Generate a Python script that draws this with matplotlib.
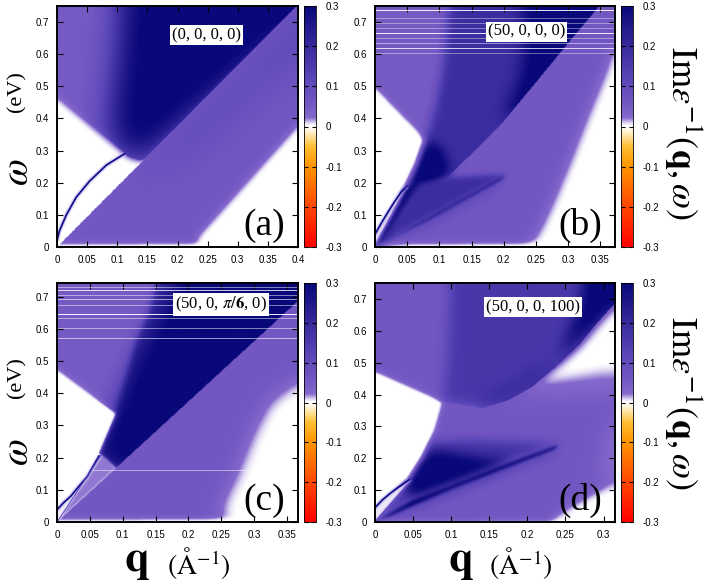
import numpy as np
import matplotlib
matplotlib.use('Agg')
import matplotlib.pyplot as plt
from matplotlib.path import Path
from matplotlib.colors import LinearSegmentedColormap
from matplotlib.ticker import FuncFormatter

plt.rcParams['font.family'] = ['Liberation Sans', 'DejaVu Sans']
plt.rcParams['mathtext.fontset'] = 'stix'
plt.rcParams['axes.unicode_minus'] = False

# ---- axis ranges and labels ----
q_max = {'a': 0.4, 'b': 0.373, 'c': 0.367, 'd': 0.315}
w_max = {'a': 0.75, 'b': 0.75, 'c': 0.742, 'd': 0.75}
params = {'a': '(0, 0, 0, 0)', 'b': '(50, 0, 0, 0)',
          'c': r'(50, 0, $\pi/\mathbf{6}$, 0)', 'd': '(50, 0, 0, 100)'}
cbar_ticks = [-0.3, -0.2, -0.1, 0, 0.1, 0.2, 0.3]

# colour scale of Im eps^-1 (gnuplot like palette)
cmap_vals = [-0.3, -0.2, -0.1, -0.05, -0.012, -0.002, 0.002, 0.008, 0.022, 0.06, 0.12, 0.2, 0.3]
cmap_cols = ['#ff0000', '#ff4600', '#ff9400', '#ffbe32', '#fff2d0', '#ffffff', '#ffffff',
             '#e2dbf4', '#8468cc', '#7256c2', '#5a46b8', '#37299c', '#08087a']

# ---- regions, (q, omega) vertices ----
bottom_strip = [(-0.02, -0.1), (0.5, -0.1), (0.5, 0.008), (-0.02, 0.004)]

# (a)
a_plasmon_q = [0.0, 0.004, 0.0155, 0.032, 0.054, 0.082, 0.112]
a_plasmon_w = [0.02, 0.05, 0.100, 0.155, 0.205, 0.255, 0.29]
a_upper = [(-0.02, 0.5), (0.112, 0.292), (0.118, 0.28), (0.137, 0.268), (0.145, 0.272),
           (0.42, 0.7875), (-0.02, 0.8)]
a_navy = [(0.085, 0.34), (0.112, 0.292), (0.13, 0.25), (0.45, 0.75), (0.45, 0.85),
          (0.108, 0.85), (0.1, 0.6)]
a_below = [(-0.02, -0.0375), (0.42, 0.7875), (0.42, -0.1), (-0.02, -0.1)]
a_lower = [(-0.02, 0.012), (0.45, 0.012), (0.45, 0.85), (-0.02, 0.85)]
a_diag_band = [(0.12, 0.2), (0.42, 0.7875), (0.42, 0.6), (0.22, 0.28)]
a_fade_br = [(0.235, -0.1), (0.23, 0.03), (0.24, 0.052), (0.4, 0.385), (0.45, 0.39), (0.45, -0.1)]

# (b)
b_plasmon_q = [0.0, 0.01, 0.02, 0.03, 0.041, 0.05]
b_plasmon_w = [0.04, 0.075, 0.108, 0.14, 0.172, 0.19]
b_split = [(0.11, 0.21), (0.146, 0.281), (0.198, 0.385), (0.25, 0.51), (0.301, 0.634),
           (0.345, 0.738), (0.352, 0.77)]
b_above = b_split + [(-0.02, 0.8), (-0.02, 0.2)]
b_below = b_split + [(0.5, 0.8), (0.5, -0.1), (-0.02, -0.1), (-0.02, 0.0)]
b_upper = [(-0.02, 0.5), (0.079, 0.333), (0.065, 0.25), (0.05, 0.19)] + b_split + \
          [(0.36, 0.8), (-0.02, 0.8)]
b_fan = [(0.079, 0.333), (0.092, 0.42), (0.105, 0.55), (0.118, 0.8), (0.5, 0.8),
         (0.5, 0.3), (0.11, 0.21), (0.075, 0.22)]
b_fan_navy = [(0.2, 0.4), (0.225, 0.52), (0.235, 0.65), (0.225, 0.8), (0.5, 0.8), (0.5, 0.5)]
b_lower = [(-0.02, 0.012), (0.5, 0.012), (0.5, 0.85), (-0.02, 0.85)]
b_fade_r = [(0.24, -0.1), (0.235, 0.012), (0.245, 0.025), (0.255, 0.06), (0.275, 0.146),
            (0.301, 0.271), (0.327, 0.405), (0.353, 0.53), (0.368, 0.613), (0.39, 0.66),
            (0.45, 0.66), (0.45, -0.1)]
b_wedge = [(0.005, 0.01), (0.07, 0.2), (0.11, 0.215), (0.205, 0.226), (0.1, 0.11)]
b_band_fade = [(0.0, 0.0), (0.203, 0.224), (0.19, 0.185), (0.09, 0.075)]
b_band = [(0.0, 0.0), (0.203, 0.224), (0.195, 0.208), (0.09, 0.092)]
b_blob = [(0.045, 0.17), (0.065, 0.15), (0.1, 0.19), (0.115, 0.24), (0.105, 0.3),
          (0.082, 0.333), (0.065, 0.27)]
b_steep = [(0.0, 0.0), (0.05, 0.187), (0.075, 0.2), (0.025, 0.04)]
b_left_white = [(-0.02, 0.5), (0.0, 0.5), (0.079, 0.333), (0.065, 0.25), (0.05, 0.19)] + \
               list(zip(b_plasmon_q, b_plasmon_w))[::-1] + [(-0.02, 0.04)]
b_gap = list(zip(b_plasmon_q, b_plasmon_w)) + [(0.0, 0.0)]
b_hlines = [0.738, 0.712, 0.696, 0.681, 0.665, 0.65, 0.634, 0.618, 0.605]
b_hline_alpha = [0.9, 0.4, 0.4, 0.4, 0.9, 0.4, 0.5, 0.8, 0.4]

# (c)
c_plasmon_q = [0.0, 0.01, 0.0205, 0.033, 0.046, 0.064]
c_plasmon_w = [0.038, 0.06, 0.079, 0.11, 0.141, 0.205]
c_upper = [(-0.02, 0.502), (0.0896, 0.337), (0.064, 0.214), (0.09, 0.1683),
           (0.43, 0.804), (-0.02, 0.804)]
c_fan_mid = [(0.0896, 0.337), (0.105, 0.45), (0.12, 0.56), (0.14, 0.65), (0.16, 0.8),
             (0.5, 0.8), (0.5, 0.3), (0.09, 0.1683), (0.064, 0.214)]
c_fan_core = [(0.093, 0.34), (0.125, 0.5), (0.2, 0.8), (0.5, 0.8), (0.5, 0.3),
              (0.09, 0.1683), (0.064, 0.214)]
c_below = [(-0.02, -0.0374), (0.43, 0.804), (0.43, -0.1), (-0.02, -0.1)]
c_lower = [(-0.02, 0.01), (0.45, 0.012), (0.45, 0.85), (-0.02, 0.85)]
c_fade_r = [(0.26, -0.1), (0.245, 0.05), (0.268, 0.141), (0.294, 0.275), (0.32, 0.379),
            (0.367, 0.45), (0.45, 0.45), (0.45, -0.1)]
c_sliver = [(0.0, 0.0), (0.068, 0.21), (0.09, 0.1683)]
c_left_white = [(-0.02, 0.502), (0.0896, 0.337), (0.064, 0.214)] + \
               list(zip(c_plasmon_q, c_plasmon_w))[::-1] + [(-0.02, 0.038)]
c_gap = list(zip(c_plasmon_q, c_plasmon_w)) + [(0.068, 0.21), (0.0, 0.0)]
c_hlines = [0.73, 0.72, 0.706, 0.691, 0.673, 0.647, 0.632, 0.603, 0.57, 0.162]
c_hline_alpha = [0.5, 0.8, 0.5, 0.6, 0.5, 0.95, 0.5, 0.5, 0.6, 0.5]

# (d)
d_plasmon_q = [0.0, 0.01, 0.02, 0.03, 0.045]
d_plasmon_w = [0.045, 0.07, 0.09, 0.108, 0.133]
d_ucurve = [(0.0886, 0.378), (0.141, 0.357), (0.176, 0.383), (0.207, 0.425), (0.238, 0.488),
            (0.268, 0.555), (0.29, 0.62), (0.312, 0.678), (0.34, 0.72)]
d_above_u = d_ucurve + [(0.4, 0.8), (0.4, 0.85), (-0.02, 0.85), (-0.02, 0.378)]
d_below_u = d_ucurve + [(0.4, 0.8), (0.4, -0.1), (-0.02, -0.1), (-0.02, 0.378)]
d_upper = [(-0.02, 0.493), (0.0886, 0.378), (0.078, 0.29), (0.064, 0.206), (0.045, 0.133),
           (0.0, 0.0), (0.4, -0.1), (0.4, 0.85), (-0.02, 0.85)]
d_dark_top = [(0.0886, 0.378), (0.094, 0.5), (0.1, 0.85), (0.4, 0.85), (0.4, 0.3)]
d_dark_edge = [(0.12, 0.36), (0.176, 0.383), (0.207, 0.425), (0.238, 0.488), (0.22, 0.5),
               (0.17, 0.43)]
d_navy_top = [(0.24, 0.52), (0.29, 0.62), (0.312, 0.678), (0.4, 0.75), (0.4, 0.85),
              (0.28, 0.85), (0.27, 0.68)]
d_white_mid = [(0.19, 0.41), (0.207, 0.425), (0.238, 0.488), (0.268, 0.555), (0.29, 0.62),
               (0.312, 0.678), (0.4, 0.75), (0.4, 0.48), (0.3, 0.47), (0.24, 0.44)]
d_lav_mid = [(0.17, 0.4), (0.4, 0.62), (0.4, 0.38), (0.3, 0.4), (0.22, 0.39)]
d_dark_low = [(0.0, 0.0), (0.045, 0.133), (0.064, 0.206), (0.075, 0.25), (0.12, 0.258),
              (0.2, 0.252), (0.242, 0.243), (0.17, 0.18), (0.1, 0.115), (0.05, 0.07)]
d_navy_arc = [(0.04, 0.12), (0.06, 0.19), (0.075, 0.225), (0.1, 0.215), (0.14, 0.2),
              (0.18, 0.195), (0.14, 0.15), (0.1, 0.115), (0.05, 0.07)]
d_band_fade = [(0.0, 0.0), (0.05, 0.07), (0.1, 0.115), (0.17, 0.18), (0.242, 0.243),
               (0.23, 0.205), (0.1, 0.085), (0.03, 0.02)]
d_band = [(0.0, 0.0), (0.05, 0.07), (0.1, 0.115), (0.17, 0.18), (0.242, 0.243),
          (0.235, 0.228), (0.1, 0.103), (0.03, 0.03)]
d_white_br = [(0.228, -0.1), (0.232, 0.015), (0.26, 0.06), (0.315, 0.133), (0.4, 0.15), (0.4, -0.1)]
d_fade_r = [(0.29, 0.13), (0.4, 0.13), (0.4, 0.35), (0.31, 0.32)]
d_left_white = [(-0.02, 0.493), (0.0886, 0.378), (0.078, 0.29), (0.064, 0.206), (0.045, 0.133)] + \
               list(zip(d_plasmon_q, d_plasmon_w))[::-1] + [(-0.02, 0.045)]
d_gap = list(zip(d_plasmon_q, d_plasmon_w)) + [(0.048, 0.13), (0.0, 0.0)]

# paint order: (polygon, value, blur in screen px, clip polygon)
layers = {
    'a': [(a_upper, 0.05, 4, None), (a_navy, 0.32, 16, a_upper),
          (a_lower, 0.06, 3, a_below), (a_diag_band, 0.1, 14, a_below),
          (a_fade_br, 0.0, 4, None), (bottom_strip, 0.0, 2.5, None)],
    'b': [(b_upper, 0.05, 4, None), (b_fan, 0.19, 5, b_above), (b_fan_navy, 0.32, 8, b_above),
          (b_lower, 0.06, 3, b_below), (b_fade_r, 0.0, 6, None), (bottom_strip, 0.0, 2.5, None),
          (b_band_fade, 0.13, 5, None), (b_band, 0.3, 1.5, None),
          (b_blob, 0.34, 6, None), (b_steep, 0.3, 2, None), (b_wedge, 0.19, 3, None),
          (b_left_white, 0.0, 2.5, None), (b_gap, 0.008, 1, None)],
    'c': [(c_upper, 0.05, 4, None), (c_fan_mid, 0.2, 3, c_upper), (c_fan_core, 0.33, 12, c_upper),
          (c_lower, 0.06, 3, c_below), (c_fade_r, 0.0, 9, c_below), (bottom_strip, 0.0, 2.5, None),
          (c_sliver, 0.02, 1, None), (c_left_white, 0.0, 2, None), (c_gap, 0.005, 1, None)],
    'd': [(d_upper, 0.06, 4, None), (d_dark_top, 0.16, 6, d_above_u), (d_dark_edge, 0.2, 8, d_above_u),
          (d_navy_top, 0.32, 7, d_above_u), (d_lav_mid, 0.02, 12, d_below_u),
          (d_white_mid, 0.0, 6, d_below_u),
          (d_dark_low, 0.17, 5, None), (d_navy_arc, 0.32, 6, None), (d_band_fade, 0.12, 5, None),
          (d_band, 0.3, 1.5, None), (d_white_br, 0.0, 5, None), (d_fade_r, 0.015, 10, None),
          (bottom_strip, 0.0, 2.5, None), (d_left_white, 0.0, 2, None), (d_gap, 0.006, 1, None)],
}
plasmons = {'a': (a_plasmon_q, a_plasmon_w), 'b': (b_plasmon_q, b_plasmon_w),
            'c': (c_plasmon_q, c_plasmon_w), 'd': (d_plasmon_q, d_plasmon_w)}
origin_lines = {'b': (0.05, 0.187), 'c': (0.068, 0.21), 'd': (0.048, 0.13)}
hlines = {'b': (b_hlines, b_hline_alpha), 'c': (c_hlines, c_hline_alpha)}

N = 360


def blur(img, s):
    if s <= 0:
        return img
    r = int(3 * s) + 1
    x = np.arange(-r, r + 1)
    k = np.exp(-0.5 * (x / s) ** 2)
    k /= k.sum()
    p = np.pad(img, r, mode='edge')
    p = np.apply_along_axis(lambda v: np.convolve(v, k, mode='valid'), 0, p)
    p = np.apply_along_axis(lambda v: np.convolve(v, k, mode='valid'), 1, p)
    return p


def build_map(key):
    qs = (np.arange(N) + 0.5) / N * q_max[key]
    ws = (np.arange(N) + 0.5) / N * w_max[key]
    QQ, WW = np.meshgrid(qs, ws)
    pts = np.column_stack([QQ.ravel(), WW.ravel()])
    field = np.zeros((N, N))
    for poly, val, sig, clip in layers[key]:
        m = Path(poly).contains_points(pts).reshape(N, N).astype(float)
        m = blur(m, sig * N / 240.0)
        if clip is not None:
            m = m * Path(clip).contains_points(pts).reshape(N, N)
        field = field * (1 - m) + val * m
    return field


cmap = LinearSegmentedColormap.from_list(
    'loss', [((v + 0.3) / 0.6, c) for v, c in zip(cmap_vals, cmap_cols)], N=2048)

fig = plt.figure(figsize=(7.06, 5.85), dpi=100)
W, H = 706.0, 585.0
boxes = {'a': (57, 6, 241, 241), 'b': (375, 6, 240, 241),
         'c': (57, 283, 241, 239), 'd': (375, 283, 240, 239)}
fmt = FuncFormatter(lambda v, p: '%g' % round(v, 3))
serif = ['Liberation Serif', 'DejaVu Serif']

for key in ['a', 'b', 'c', 'd']:
    x0, y0, w, h = boxes[key]
    ax = fig.add_axes([x0 / W, 1 - (y0 + h) / H, w / W, h / H])
    cax = fig.add_axes([(x0 + w + 6) / W, 1 - (y0 + h) / H, 12 / W, h / H])
    img = build_map(key)
    im = ax.imshow(img, origin='lower', extent=[0, q_max[key], 0, w_max[key]],
                   aspect='auto', cmap=cmap, vmin=-0.3, vmax=0.3, interpolation='bilinear')
    if key in hlines:
        for yv, al in zip(*hlines[key]):
            ax.axhline(yv, color='white', lw=0.7, alpha=al)
    pq, pw = plasmons[key]
    ax.plot(pq, pw, color='#b8a8e8', lw=3.5, alpha=0.45, solid_capstyle='butt')
    ax.plot(pq, pw, color='#12108c', lw=1.3)
    if key in origin_lines:
        ox, oy = origin_lines[key]
        ax.plot([0, ox], [0, oy], color='#5a48c0', lw=0.7)
    ax.set_xlim(0, q_max[key])
    ax.set_ylim(0, w_max[key])
    ax.set_xticks(np.arange(0, q_max[key] + 1e-6, 0.05))
    ax.set_yticks(np.arange(0, 0.71, 0.1))
    ax.xaxis.set_major_formatter(fmt)
    ax.yaxis.set_major_formatter(fmt)
    ax.tick_params(direction='in', top=True, right=True, length=4, width=0.8,
                   labelsize=7, pad=6)
    for sp in ax.spines.values():
        sp.set_linewidth(1.4)
    ax.text(0.946, 0.05, '(%s)' % key, transform=ax.transAxes, ha='right', va='baseline',
            fontsize=27, family=serif)
    tx = {'a': 0.62, 'b': 0.63, 'c': 0.68, 'd': 0.66}[key]
    ty = {'a': 0.88, 'b': 0.894, 'c': 0.91, 'd': 0.90}[key]
    ax.text(tx, ty, params[key], transform=ax.transAxes, ha='center', va='center',
            fontsize=12, family=serif,
            bbox=dict(facecolor='white', edgecolor='none', pad=1.5))

    cb = fig.colorbar(im, cax=cax, ticks=cbar_ticks)
    cb.ax.yaxis.set_major_formatter(fmt)
    cb.outline.set_linewidth(0.6)
    cb.ax.tick_params(direction='in', left=True, right=True, length=3, width=0.8,
                      labelsize=7, pad=7)

# axis labels
for yc_w, yc_ev in [(172, 92), (452, 378)]:
    fig.text(18 / W, 1 - yc_w / H, r'$\omega$', fontsize=28, rotation=90, ha='center', va='center')
    fig.text(17 / W, 1 - yc_ev / H, '(eV)', fontsize=16, rotation=90, ha='center', va='center',
             family=serif)
for xq, xa in [(137, 199), (461, 521)]:
    fig.text(xq / W, 1 - 562 / H, r'$\mathbf{q}$', fontsize=32, ha='center', va='center')
    fig.text(xa / W, 1 - 563 / H, r'$(\mathrm{\AA}^{-1})$', fontsize=20, ha='center', va='center')
for yc in [133, 403]:
    fig.text(684 / W, 1 - yc / H, r'$\mathrm{Im}\varepsilon^{-1}(\mathbf{q},\omega)$', fontsize=26,
             rotation=270, ha='center', va='center')

fig.savefig('out.png', dpi=100)
